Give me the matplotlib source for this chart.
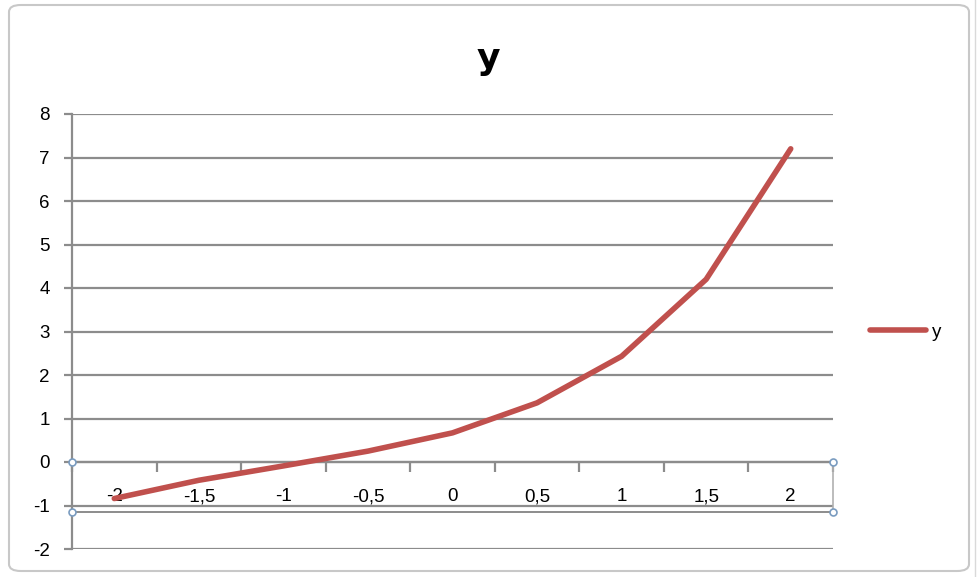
import matplotlib
matplotlib.use("Agg")
import matplotlib.pyplot as plt
from matplotlib.patches import FancyBboxPatch
from matplotlib.lines import Line2D
import numpy as np

# Data
x_labels = ["-2", "-1,5", "-1", "-0,5", "0", "0,5", "1", "1,5", "2"]
y_values = [-0.84, -0.42, -0.09, 0.25, 0.67, 1.36, 2.43, 4.2, 7.2]
series_name = "y"
y_ticks = [-2, -1, 0, 1, 2, 3, 4, 5, 6, 7, 8]

W, H = 978, 577
plt.rcParams['font.family'] = ['Liberation Sans', 'DejaVu Sans']

fig = plt.figure(figsize=(W / 100, H / 100), dpi=100)
fig.patch.set_facecolor('white')

# outer rounded border (chart area)
border = FancyBboxPatch((9 / W, 6 / H), (969 - 9) / W, (572 - 6) / H,
                        boxstyle="round,pad=0,rounding_size=0.012",
                        transform=fig.transFigure, facecolor='none',
                        edgecolor='#C8C8C8', linewidth=1.5, zorder=-1)
fig.patches.append(border)
fig.add_artist(Line2D([975 / W, 975 / W], [0, 1], transform=fig.transFigure,
                      color='#D9D9D9', linewidth=1.0, zorder=-1))

left, right = 72 / W, 833 / W
bottom, top = 1 - 549 / H, 1 - 114 / H
ax = fig.add_axes([left, bottom, right - left, top - bottom])
ax.set_facecolor('none')

xpos = np.arange(len(x_labels))
grid_c = '#8C8C8C'

for yv in y_ticks:
    ax.axhline(yv, color=grid_c, linewidth=1.6, zorder=1)

ax.plot(xpos, y_values, color='#C0504D', linewidth=4.0, solid_capstyle='round',
        label=series_name, zorder=3)

ax.set_xlim(-0.5, len(x_labels) - 0.5)
ax.set_ylim(-2, 8)

for s in ['top', 'right']:
    ax.spines[s].set_visible(False)
ax.spines['left'].set_color(grid_c)
ax.spines['left'].set_linewidth(1.6)
ax.spines['bottom'].set_position(('data', 0))
ax.spines['bottom'].set_color(grid_c)
ax.spines['bottom'].set_linewidth(1.6)

ax.set_yticks(y_ticks)
ax.set_yticklabels([str(v) for v in y_ticks])
ax.tick_params(axis='y', direction='out', length=6, width=1.6, color=grid_c,
               pad=10, labelsize=13.5, labelcolor='#000000')

ax.set_xticks(xpos)
ax.set_xticklabels(x_labels)
ax.tick_params(axis='x', which='major', length=0, pad=19, labelsize=13.5,
               labelcolor='#000000')
ax.set_xticks(np.arange(len(x_labels) + 1) - 0.5, minor=True)
ax.tick_params(axis='x', which='minor', direction='out', length=7.5, width=1.6,
               color=grid_c)

# selection box around the category axis (as in the screenshot)
box_bottom = -1.15
ax.plot([-0.5, len(x_labels) - 0.5], [box_bottom, box_bottom], color=grid_c,
        linewidth=1.4, zorder=2, clip_on=False)
ax.plot([len(x_labels) - 0.5, len(x_labels) - 0.5], [0, box_bottom],
        color='#B0B0B0', linewidth=1.2, zorder=2, clip_on=False)
for hx in [-0.5, len(x_labels) - 0.5]:
    for hy in [0, box_bottom]:
        ax.plot([hx], [hy], marker='o', markersize=5, markerfacecolor='white',
                markeredgecolor='#7A9CC0', markeredgewidth=1.2, zorder=5,
                clip_on=False)

fig.text(488 / W, 1 - 59 / H, "y", ha='center', va='center', fontsize=26,
         fontweight='bold', family=['DejaVu Sans'])

leg = ax.legend(loc='center left', bbox_to_anchor=(870 / W, 1 - 332 / H),
                bbox_transform=fig.transFigure, frameon=False, fontsize=13.5,
                handlelength=3.0, handletextpad=0.3, borderpad=0,
                borderaxespad=0)

fig.savefig("out.png", dpi=100, facecolor='white')
